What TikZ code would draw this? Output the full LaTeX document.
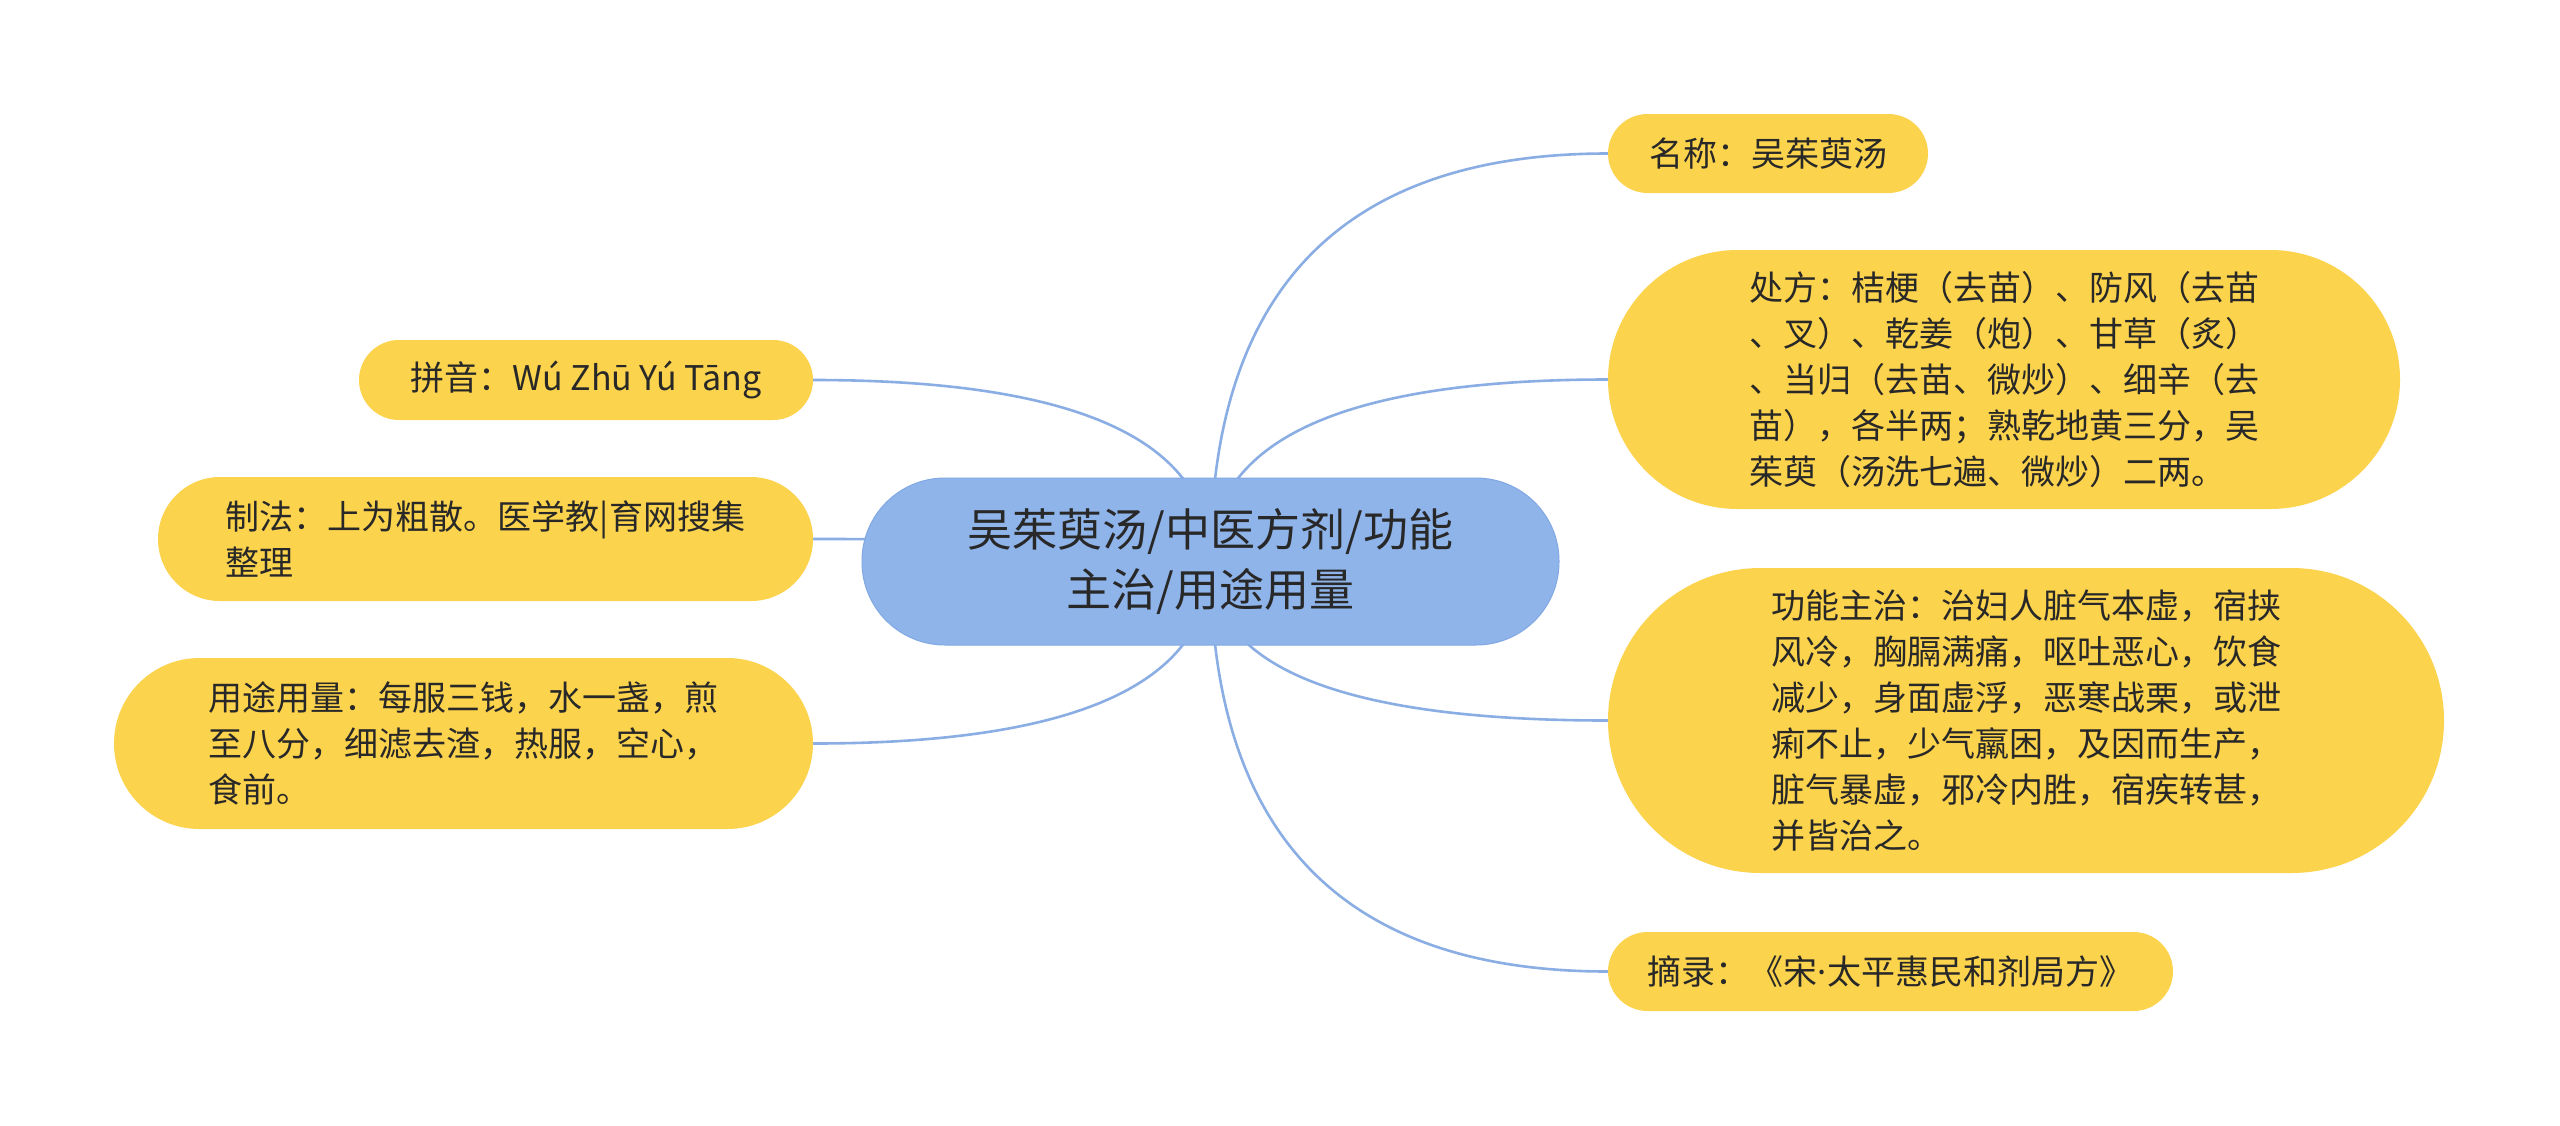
\documentclass[tikz,border=0pt]{standalone}
\usepackage{fontspec}
\setmainfont{Noto Sans CJK SC}
\newfontfamily\latinfont{Noto Sans}
\usetikzlibrary{calc}
\definecolor{leafyellow}{RGB}{252,211,77}
\definecolor{rootblue}{RGB}{143,180,234}
\definecolor{rootedge}{RGB}{130,168,228}
\definecolor{linkblue}{RGB}{138,174,228}
\definecolor{inktext}{RGB}{40,40,40}
\pgfdeclarelayer{paper}
\pgfdeclarelayer{bg}
\pgfsetlayers{paper,bg,main}
\tikzset{
  rootbox/.style={draw=rootedge, line width=1pt, fill=rootblue, text=inktext, align=center, inner sep=0pt,
    font=\fontsize{45}{60}\selectfont},
  leafbox/.style={fill=leafyellow, text=inktext, align=left, inner sep=0pt,
    font=\fontsize{34}{46}\selectfont},
  link/.style={draw=linkblue, line width=2.6pt},
}
\begin{document}
\begin{tikzpicture}[x=1pt,y=1pt]
\useasboundingbox (0,0) rectangle (2560,-1125);
\begin{pgfonlayer}{paper}
\fill[white] (0,0) rectangle (2560,-1125);
\end{pgfonlayer}

\node[rootbox, minimum width=697pt, minimum height=167pt, rounded corners=83pt] (root) at (1210.5,-561.5)
  {吴茱萸汤/中医方剂/功能\\主治/用途用量};

\node[leafbox, minimum width=320pt, minimum height=79pt, rounded corners=39.5pt] (mc) at (1768,-153.5)
  {名称：吴茱萸汤};
\node[leafbox, minimum width=792pt, minimum height=259pt, rounded corners=129.5pt] (cf) at (2004,-379.5)
  {处方：桔梗（去苗）、防风（去苗\\、叉）、乾姜（炮）、甘草（炙）\\、当归（去苗、微炒）、细辛（去\\苗），各半两；熟乾地黄三分，吴\\茱萸（汤洗七遍、微炒）二两。};
\node[leafbox, minimum width=836pt, minimum height=305pt, rounded corners=152.5pt] (gn) at (2026,-720.5)
  {功能主治：治妇人脏气本虚，宿挟\\风冷，胸膈满痛，呕吐恶心，饮食\\减少，身面虚浮，恶寒战栗，或泄\\痢不止，少气羸困，及因而生产，\\脏气暴虚，邪冷内胜，宿疾转甚，\\并皆治之。};
\node[leafbox, minimum width=565pt, minimum height=79pt, rounded corners=39.5pt] (zl) at (1890.5,-971.5)
  {摘录：《宋{\latinfont ·}太平惠民和剂局方》};

\node[leafbox, minimum width=454pt, minimum height=80pt, rounded corners=40pt] (py) at (586,-380)
  {拼音：Wú Zhū Yú Tāng};
\node[leafbox, minimum width=655pt, minimum height=124pt, rounded corners=62pt] (zf) at (485.5,-539)
  {制法：上为粗散。医学教|育网搜集\\整理};
\node[leafbox, minimum width=699pt, minimum height=171pt, rounded corners=85.5pt] (yt) at (463.5,-743.5)
  {用途用量：每服三钱，水一盏，煎\\至八分，细滤去渣，热服，空心，\\食前。};

\begin{pgfonlayer}{bg}
\foreach \c in {mc,cf,gn,zl}
  \draw[link] (root.center)
    .. controls ($(root.center)!0.6667!(root.center |- \c.west)$)
           and ($(\c.west)!0.6667!(root.center |- \c.west)$) .. (\c.west);
\foreach \c in {py,zf,yt}
  \draw[link] (root.center)
    .. controls ($(root.center)!0.6667!(root.center |- \c.east)$)
           and ($(\c.east)!0.6667!(root.center |- \c.east)$) .. (\c.east);
\end{pgfonlayer}
\end{tikzpicture}
\end{document}
